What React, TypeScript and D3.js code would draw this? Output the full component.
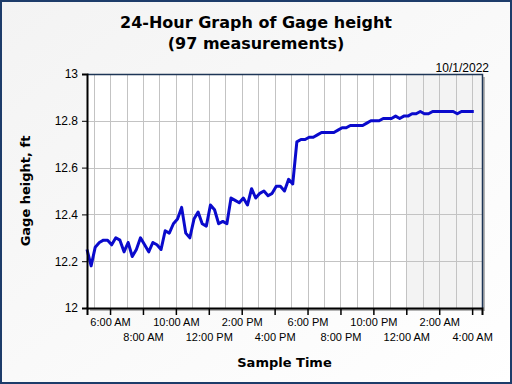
import React, { useEffect, useRef } from 'react';
import * as d3 from 'd3';

// gage height readings (ft), every 15 minutes from 4:36 AM
const gageHeight = [
  12.25, 12.18, 12.26, 12.28, 12.29, 12.29, 12.27, 12.30, 12.29, 12.24,
  12.28, 12.22, 12.25, 12.30, 12.27, 12.24, 12.28, 12.27, 12.25, 12.33,
  12.32, 12.36, 12.38, 12.43, 12.32, 12.30, 12.38, 12.41, 12.36, 12.35,
  12.44, 12.42, 12.36, 12.37, 12.36, 12.47, 12.46, 12.45, 12.47, 12.44,
  12.51, 12.47, 12.49, 12.50, 12.48, 12.49, 12.52, 12.52, 12.50, 12.55,
  12.53, 12.71, 12.72, 12.72, 12.73, 12.73, 12.74, 12.75, 12.75, 12.75,
  12.75, 12.76, 12.77, 12.77, 12.78, 12.78, 12.78, 12.78, 12.79, 12.80,
  12.80, 12.80, 12.81, 12.81, 12.81, 12.82, 12.81, 12.82, 12.82, 12.83,
  12.83, 12.84, 12.83, 12.83, 12.84, 12.84, 12.84, 12.84, 12.84, 12.84,
  12.83, 12.84, 12.84, 12.84, 12.84,
];
const firstSample = new Date(2022, 8, 30, 4, 36);
const axisStart = new Date(2022, 8, 30, 4, 36);
const axisEnd = new Date(2022, 9, 1, 4, 36);
const newDay = new Date(2022, 9, 1, 0, 0);
const yTicks = [12, 12.2, 12.4, 12.6, 12.8, 13];
const titleLines = ['24-Hour Graph of Gage height', '(97 measurements)'];
const dateLabel = '10/1/2022';

export default function App() {
  const ref = useRef<SVGSVGElement>(null);

  useEffect(() => {
    const width = 512, height = 384;
    const margin = { top: 74, right: 30, bottom: 76, left: 87 };
    const svg = d3.select(ref.current);
    svg.selectAll('*').remove();

    const data = gageHeight.map((v, i) => ({
      t: new Date(firstSample.getTime() + i * 15 * 60000),
      v,
    }));

    const x = d3.scaleTime()
      .domain([axisStart, axisEnd])
      .range([margin.left, width - margin.right]);
    const y = d3.scaleLinear()
      .domain([12, 13])
      .range([height - margin.bottom, margin.top]);

    const defs = svg.append('defs');
    const grad = defs.append('linearGradient')
      .attr('id', 'bg').attr('x1', 0).attr('y1', 0).attr('x2', 1).attr('y2', 1);
    grad.append('stop').attr('offset', '0%').attr('stop-color', '#f3f3f3');
    grad.append('stop').attr('offset', '100%').attr('stop-color', '#ffffff');

    // outer frame
    svg.append('rect')
      .attr('x', 1).attr('y', 1).attr('width', width - 2).attr('height', height - 2)
      .attr('fill', 'url(#bg)').attr('stroke', '#1d3c6a').attr('stroke-width', 2);

    // title
    svg.append('text')
      .attr('x', width / 2).attr('y', 28)
      .attr('text-anchor', 'middle')
      .style('font', 'bold 16px "DejaVu Sans", sans-serif')
      .selectAll('tspan').data(titleLines).enter()
      .append('tspan')
      .attr('x', width / 2)
      .attr('dy', (d, i) => (i === 0 ? 0 : 21))
      .text(d => d);

    const x0 = x.range()[0], x1 = x.range()[1];
    const y0 = y.range()[0], y1 = y.range()[1];

    // plot shadow + background
    svg.append('rect')
      .attr('x', x0 + 3).attr('y', y1 + 3).attr('width', x1 - x0).attr('height', y0 - y1)
      .attr('fill', '#b4b4b4');
    svg.append('rect')
      .attr('x', x0).attr('y', y1).attr('width', x1 - x0).attr('height', y0 - y1)
      .attr('fill', '#ffffff');
    svg.append('rect')
      .attr('x', x(newDay)).attr('y', y1).attr('width', x1 - x(newDay)).attr('height', y0 - y1)
      .attr('fill', '#f3f3f3');

    // grid
    const grid = svg.append('g').attr('stroke', '#c3c3c3').attr('stroke-width', 1);
    grid.selectAll('line.v')
      .data(x.ticks(d3.timeHour.every(1)))
      .enter().append('line')
      .attr('x1', d => Math.round(x(d)) + 0.5).attr('x2', d => Math.round(x(d)) + 0.5)
      .attr('y1', y1).attr('y2', y0);
    grid.selectAll('line.h')
      .data(yTicks.slice(1, -1))
      .enter().append('line')
      .attr('x1', x0).attr('x2', x1)
      .attr('y1', d => Math.round(y(d)) + 0.5).attr('y2', d => Math.round(y(d)) + 0.5);

    // top and right border
    svg.append('path')
      .attr('d', `M${x0},${y1 + 0.5}H${x1 + 0.5}V${y0}`)
      .attr('fill', 'none').attr('stroke', '#1d3556').attr('stroke-width', 1.5);

    // data line
    const line = d3.line<{ t: Date; v: number }>()
      .x(d => x(d.t))
      .y(d => y(d.v));
    svg.append('path')
      .datum(data)
      .attr('d', line)
      .attr('fill', 'none')
      .attr('stroke', '#0a0acc')
      .attr('stroke-width', 3)
      .attr('stroke-linejoin', 'round');

    // y axis
    const yAxis = svg.append('g')
      .attr('transform', `translate(${x0},0)`)
      .call(d3.axisLeft(y).tickValues(yTicks).tickFormat(d3.format('')).tickSize(5).tickPadding(4));
    yAxis.select('.domain').attr('stroke', '#000').attr('stroke-width', 2);
    yAxis.selectAll('text')
      .style('font', '12px "Liberation Sans", Arial, sans-serif').attr('fill', '#000');

    // x axis
    const fmt = d3.timeFormat('%-I:%M %p');
    const xAxis = svg.append('g')
      .attr('transform', `translate(0,${y0})`)
      .call(d3.axisBottom(x).ticks(d3.timeHour.every(2)).tickFormat(d => fmt(d as Date)).tickSize(7).tickPadding(3));
    xAxis.select('.domain').attr('stroke', '#000').attr('stroke-width', 2);
    xAxis.selectAll('line').attr('stroke-width', 1.5);
    xAxis.selectAll('text')
      .style('font', '11px "Liberation Sans", Arial, sans-serif').attr('fill', '#000')
      .attr('y', (d, i) => (i % 2 === 0 ? 10 : 25));

    // axis titles
    svg.append('text')
      .attr('x', (x0 + x1) / 2).attr('y', 367)
      .attr('text-anchor', 'middle')
      .style('font', 'bold 13px "DejaVu Sans", sans-serif')
      .text('Sample Time');
    svg.append('text')
      .attr('transform', `translate(30,${(y0 + y1) / 2}) rotate(-90)`)
      .attr('text-anchor', 'middle')
      .style('font', 'bold 13px "DejaVu Sans", sans-serif')
      .text('Gage height, ft');

    svg.append('text')
      .attr('x', 489).attr('y', 72)
      .attr('text-anchor', 'end')
      .style('font', '12px "Liberation Sans", Arial, sans-serif')
      .text(dateLabel);
  }, []);

  return (
    <div style={{ position: 'absolute', left: 0, top: 0 }}>
      <svg ref={ref} width={512} height={384} style={{ display: 'block' }} />
    </div>
  );
}
